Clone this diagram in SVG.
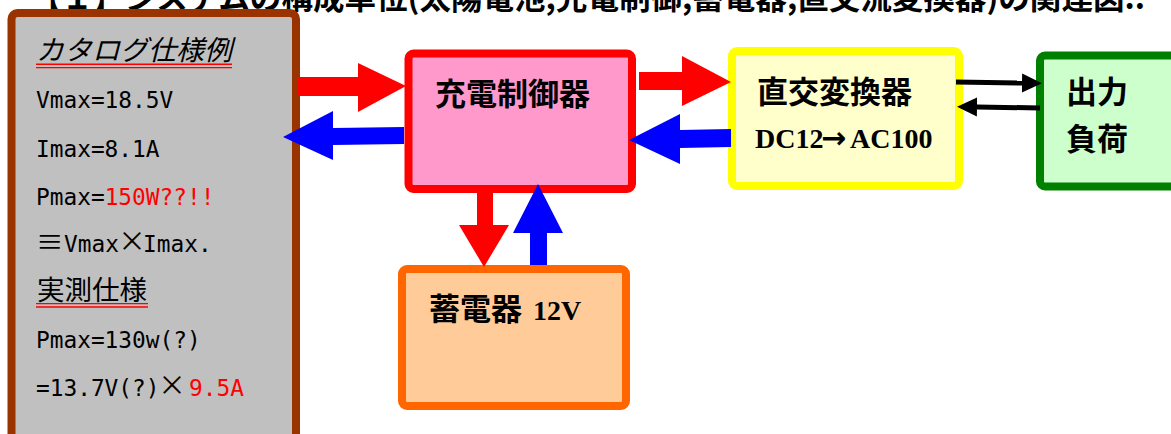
<svg xmlns="http://www.w3.org/2000/svg" width="1171" height="434" viewBox="0 0 1171 434">
<defs>
<style>
.box{stroke-width:8}
.mono{font-family:"DejaVu Sans Mono","Liberation Mono",monospace;font-size:22.8px;fill:#000}
.jp{font-family:"Noto Sans CJK JP",sans-serif;font-size:27.5px;fill:#000}
.red{fill:#FF0000}
.lbl{font-family:"Noto Sans CJK JP",sans-serif;font-weight:bold;font-size:31px;fill:#000}
.ser{font-family:"Liberation Serif","Noto Sans CJK JP",serif;font-weight:bold;font-size:28px;fill:#000}
.ul{stroke:#FF0000;stroke-width:1.4;fill:none}
.conn-black{stroke:#000;stroke-width:5;fill:none}
</style>
<marker id="bh" viewBox="0 -10 20 20" refX="0" refY="0" markerWidth="20" markerHeight="20" markerUnits="userSpaceOnUse" orient="auto">
<path d="M0,-9.5 L20,0 L0,9.5 z" fill="#000"/>
</marker>
</defs>
<rect width="1171" height="434" fill="#FFFFFF"/>
<text x="30" y="9" font-family="Noto Sans CJK JP, sans-serif" font-weight="bold" font-size="31" fill="#000" textLength="1115" lengthAdjust="spacingAndGlyphs">【１】システムの構成単位(太陽電池,充電制御,蓄電器,直交流変換器)の関連図..</text>

<g id="spec">
<rect class="box" x="11.5" y="13" width="284.5" height="440" rx="6" fill="#C0C0C0" stroke="#993300"/>
<text class="jp" x="36" y="60" font-style="italic" textLength="196" lengthAdjust="spacingAndGlyphs">カタログ仕様例</text>
<line class="ul" x1="36" y1="64.3" x2="232" y2="64.3"/>
<line class="ul" x1="36" y1="67.6" x2="232" y2="67.6"/>
<text class="mono" x="36" y="108">Vmax=18.5V</text>
<text class="mono" x="36" y="157">Imax=8.1A</text>
<text class="mono" x="36" y="205">Pmax=<tspan class="red">150W??!!</tspan></text>
<text class="jp" x="36" y="252">≡</text>
<text class="mono" x="64" y="252">Vmax</text>
<text class="jp" x="132" y="251" font-size="24" text-anchor="middle">×</text>
<text class="mono" x="143" y="252">Imax.</text>
<text class="jp" x="37" y="300">実測仕様</text>
<line class="ul" x1="36" y1="303.6" x2="148" y2="303.6"/>
<line class="ul" x1="36" y1="307" x2="148" y2="307"/>
<text class="mono" x="36" y="348">Pmax=130w(?)</text>
<text class="mono" x="36" y="396">=13.7V(?)</text>
<text class="jp" x="172" y="395" font-size="24" text-anchor="middle">×</text>
<text class="mono red" x="189" y="396">9.5A</text>
</g>

<g id="controller">
<rect class="box" x="408.5" y="53.5" width="223.5" height="135.5" rx="5" fill="#FF99CC" stroke="#FF0000"/>
<text class="lbl" x="435" y="105">充電制御器</text>
</g>

<g id="inverter">
<rect class="box" x="732" y="51" width="227" height="135" rx="5" fill="#FFFFCC" stroke="#FFFF00"/>
<text class="lbl" x="757" y="103">直交変換器</text>
<text class="ser" x="755" y="148">DC12</text>
<text x="821" y="148" font-family="DejaVu Sans, sans-serif" font-weight="bold" font-size="30" fill="#000">→</text>
<text class="ser" x="850" y="148">AC100</text>
</g>

<g id="load">
<rect class="box" x="1040" y="55.5" width="200" height="131" rx="5" fill="#CCFFCC" stroke="#008000"/>
<text class="lbl" x="1066" y="103" font-size="29">出力</text>
<text class="lbl" x="1066" y="150" font-size="29">負荷</text>
</g>

<g id="battery">
<rect class="box" x="402" y="269" width="224" height="137" rx="5" fill="#FFCC99" stroke="#FF6600"/>
<text class="lbl" x="429" y="320" font-size="32">蓄電器</text>
<text class="ser" x="533" y="320">12V</text>
</g>

<g id="connectors">
<polygon points="297,77 358,77 358,63 406,86 358,112 358,96 297,96" fill="#FF0000"/>
<polygon points="404,127 333,128 333,111 283,137 333,160 333,145 404,144" fill="#0000FF"/>
<polygon points="639,72 682,72 682,56 731,82 682,106 682,90 639,90" fill="#FF0000"/>
<polygon points="731,129 680,130 680,114 629,140 680,164 680,148 731,147" fill="#0000FF"/>
<polygon points="477,193 493,193 493,225 509,225 484,267 459,225 477,225" fill="#FF0000"/>
<polygon points="530,265 547,265 547,233 563,233 538,184 513,233 530,233" fill="#0000FF"/>
<line class="conn-black" x1="956" y1="82" x2="1022" y2="83" marker-end="url(#bh)"/>
<line class="conn-black" x1="1040" y1="108" x2="977" y2="107" marker-end="url(#bh)"/>
</g>
</svg>
